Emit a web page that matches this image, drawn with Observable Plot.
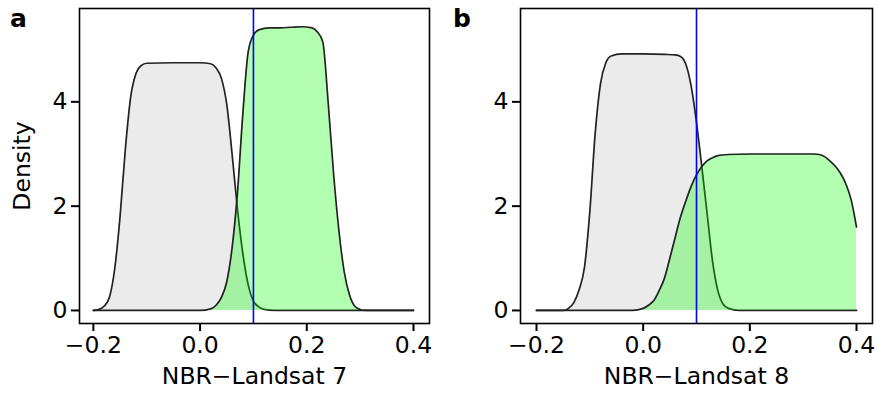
<!DOCTYPE html>
<html><head><meta charset="utf-8">
<script src="https://cdn.jsdelivr.net/npm/d3@7"></script>
<script src="https://cdn.jsdelivr.net/npm/@observablehq/plot@0.6"></script>
<style>
body{margin:0;background:#fff;}
#wrap{position:relative;width:877px;height:394px;overflow:hidden;}
.panel{position:absolute;top:0;}
.tag{position:absolute;font-family:"DejaVu Sans";font-weight:bold;font-size:25px;line-height:1;color:#000;}
</style></head><body>
<div id="wrap"></div>
<script>
const xTicks = [-0.2, 0.0, 0.2, 0.4];
const yTicks = [0, 2, 4];
const threshold = 0.1;
const panelTags = ["a", "b"];
const xLabels = ["NBR\u2212Landsat 7", "NBR\u2212Landsat 8"];

// Panel a (Landsat 7) - unburned (grey) density
const aGreyX = [-0.20,-0.19,-0.18,-0.17,-0.16,-0.15,-0.14,-0.13,-0.12,-0.11,-0.10,-0.05,0.00,0.02,0.03,0.04,0.05,0.06,0.07,0.08,0.09,0.10,0.11,0.12,0.14,0.40];
const aGreyY = [0,0.02,0.08,0.25,0.8,1.8,3.1,4.1,4.55,4.7,4.74,4.75,4.75,4.73,4.65,4.45,3.95,3.0,1.95,1.1,0.5,0.18,0.07,0.02,0,0];
// Panel a - burned (green) density
const aGreenX = [-0.20,0.00,0.02,0.03,0.04,0.05,0.06,0.07,0.08,0.09,0.10,0.11,0.13,0.15,0.17,0.19,0.21,0.22,0.23,0.24,0.25,0.26,0.27,0.28,0.29,0.30,0.31,0.40];
const aGreenY = [0,0,0.03,0.1,0.25,0.55,1.2,2.25,3.75,4.95,5.28,5.38,5.42,5.42,5.43,5.44,5.42,5.34,5.15,4.0,2.65,1.55,0.75,0.3,0.08,0.02,0,0];
// Panel b (Landsat 8) - unburned (grey) density
const bGreyX = [-0.20,-0.15,-0.14,-0.13,-0.12,-0.11,-0.10,-0.09,-0.08,-0.07,-0.06,-0.04,0.00,0.04,0.06,0.07,0.08,0.09,0.10,0.11,0.12,0.13,0.14,0.15,0.16,0.18,0.40];
const bGreyY = [0,0,0.04,0.15,0.4,0.83,1.9,3.39,4.35,4.75,4.88,4.92,4.92,4.91,4.9,4.87,4.72,4.3,3.6,2.75,1.85,0.95,0.38,0.12,0.04,0,0];
// Panel b - burned (green) density
const bGreenX = [-0.20,-0.02,0.00,0.01,0.02,0.03,0.04,0.05,0.06,0.07,0.08,0.09,0.10,0.11,0.12,0.13,0.14,0.16,0.20,0.25,0.30,0.32,0.33,0.34,0.35,0.36,0.37,0.38,0.39,0.40];
const bGreenY = [0,0,0.04,0.1,0.19,0.38,0.62,1.0,1.4,1.79,2.1,2.38,2.6,2.76,2.87,2.93,2.97,2.99,3.0,3.0,3.0,3.0,2.99,2.95,2.87,2.77,2.63,2.43,2.12,1.6];

const greyFill = "#ebebeb";
const greenFill = "#00ff00";

function rows(xs, ys) { return xs.map((x, i) => ({x, y: ys[i]})); }

function makePanel(opts) {
  const grey = rows(opts.greyX, opts.greyY);
  const green = rows(opts.greenX, opts.greenY);
  return Plot.plot({
    width: opts.width,
    height: 394,
    marginLeft: opts.marginLeft,
    marginRight: opts.marginRight,
    marginTop: 8,
    marginBottom: 71,
    style: {fontFamily: "DejaVu Sans", fontSize: "23.5px", color: "#000", background: "#fff", overflow: "visible"},
    x: {domain: opts.xDomain},
    y: {domain: [-0.25, 5.79]},
    marks: [
      Plot.areaY(grey, {x: "x", y: "y", fill: greyFill, curve: "monotone-x"}),
      Plot.lineY(grey, {x: "x", y: "y", stroke: "#222", strokeWidth: 1.7, curve: "monotone-x"}),
      Plot.areaY(green, {x: "x", y: "y", fill: greenFill, fillOpacity: 0.3, curve: "monotone-x"}),
      Plot.lineY(green, {x: "x", y: "y", stroke: "#222", strokeWidth: 1.7, curve: "monotone-x"}),
      Plot.ruleX([threshold], {stroke: "#0000ff", strokeWidth: 1.6}),
      Plot.axisX({ticks: xTicks, tickFormat: d3.format(".1f"), tickSize: 8, tickPadding: 5, strokeWidth: 2,
        label: opts.xLabel, labelAnchor: "center", labelArrow: "none", labelOffset: 60}),
      Plot.axisY({ticks: yTicks, tickFormat: d3.format("d"), tickSize: 8, tickPadding: 4, strokeWidth: 2,
        label: opts.yLabel, labelAnchor: "center", labelArrow: "none", labelOffset: 66}),
      Plot.frame({stroke: "#000", strokeWidth: 1.6})
    ]
  });
}

const wrap = document.getElementById("wrap");
const pa = makePanel({width: 440, marginLeft: 79, marginRight: 11, xDomain: [-0.226, 0.43], greyX: aGreyX, greyY: aGreyY, greenX: aGreenX, greenY: aGreenY, xLabel: xLabels[0], yLabel: "Density"});
pa.classList.add("panel"); pa.style.left = "0px";
const pb = makePanel({width: 437, marginLeft: 80, marginRight: 5, xDomain: [-0.23, 0.43], greyX: bGreyX, greyY: bGreyY, greenX: bGreenX, greenY: bGreenY, xLabel: xLabels[1], yLabel: null});
pb.classList.add("panel"); pb.style.left = "440px";
wrap.appendChild(pa); wrap.appendChild(pb);

[[panelTags[0], 10], [panelTags[1], 453]].forEach(([t, left]) => {
  const d = document.createElement("div");
  d.className = "tag"; d.textContent = t;
  d.style.left = left + "px"; d.style.top = "6px";
  wrap.appendChild(d);
});
</script>
</body></html>
